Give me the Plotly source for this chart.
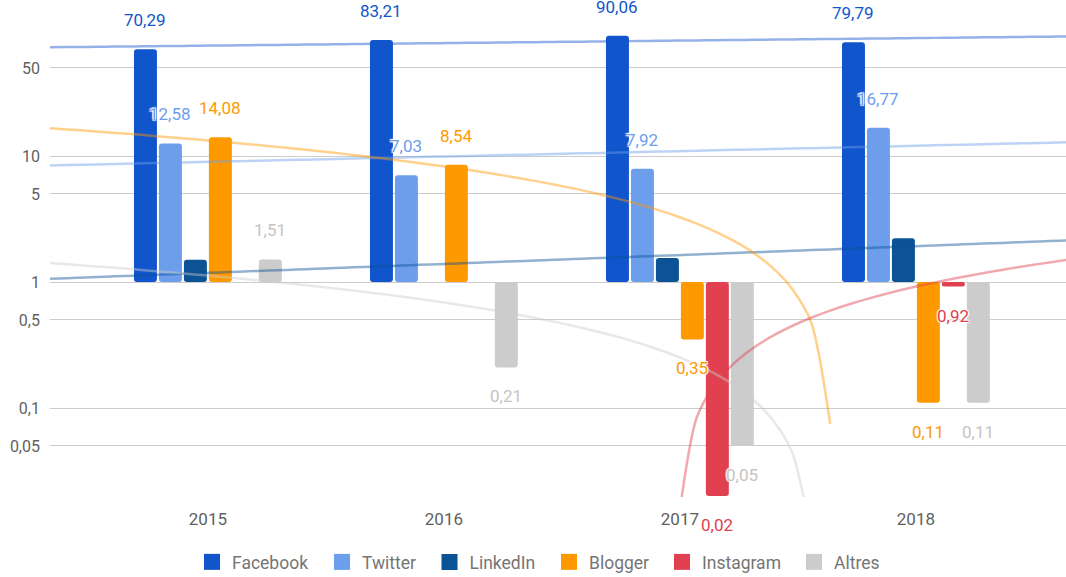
import numpy as np
import plotly.graph_objects as go

years = ["2015", "2016", "2017", "2018"]
series_names = ["Facebook", "Twitter", "LinkedIn", "Blogger", "Instagram", "Altres"]
facebook = [70.29, 83.21, 90.06, 79.79]
twitter = [12.58, 7.03, 7.92, 16.77]
linkedin = [1.5, 1.0, 1.55, 2.23]
blogger = [14.08, 8.54, 0.35, 0.11]
instagram = [None, None, 0.02, 0.92]
altres = [1.51, 0.21, 0.05, 0.11]
colors = ["#1155CC", "#6D9EEB", "#0B5394", "#FF9900", "#E0404F", "#CCCCCC"]
label_colors = ["#1155CC", "#6D9EEB", "#0B5394", "#FF9900", "#E0404F", "#C4C4C4"]
show_labels = [True, True, False, True, True, True]
trend_types = ["exp", "exp", "exp", "linear", "linear", "linear"]
y_tickvals = [0.05, 0.1, 0.5, 1, 5, 10, 50]
y_ticktext = ["0,05", "0,1", "0,5", "1", "5", "10", "50"]
legend_x = [192, 322, 429.5, 549, 662, 794]  # left edge of each legend entry (px)

data = [facebook, twitter, linkedin, blogger, instagram, altres]
xs = np.arange(len(years))
x_range = [-0.669, 3.636]
bargap = 0.365
slot = (1 - bargap) / len(series_names)
plot_left, plot_width = 50, 1016

def rgba(hexc, a):
    h = hexc.lstrip("#")
    return "rgba(%d,%d,%d,%.2f)" % (int(h[0:2], 16), int(h[2:4], 16), int(h[4:6], 16), a)

fig = go.Figure()

# trendlines (fitted from the data, sampled along the category axis)
xt = np.arange(-0.676, 3.8, 0.0808)
for name, vals, col, tt in zip(series_names, data, colors, trend_types):
    px = np.array([x for x, v in zip(xs, vals) if v is not None], dtype=float)
    py = np.array([v for v in vals if v is not None], dtype=float)
    if tt == "exp":
        c = np.polyfit(px, np.log(py), 1)
        yt = np.exp(np.polyval(c, xt))
    else:
        c = np.polyfit(px, py, 1)
        yt = np.polyval(c, xt)
    keep = yt > 0
    fig.add_trace(go.Scatter(x=xt[keep], y=yt[keep], mode="lines", showlegend=False, hoverinfo="skip",
                             line=dict(color=rgba(col, 0.45), width=2.5, shape="spline", smoothing=0.8)))

# bars (base at 1)
for k, (name, vals, col) in enumerate(zip(series_names, data, colors)):
    yv = [None if v is None else v - 1 for v in vals]
    fig.add_trace(go.Bar(x=xs, y=yv, base=1, name=name, showlegend=False,
                         marker=dict(color=col, line=dict(width=0))))

# legend entries (one legend per entry so the spacing matches)
for k, (name, col) in enumerate(zip(series_names, colors)):
    lg = "legend" if k == 0 else "legend%d" % (k + 1)
    fig.add_trace(go.Scatter(x=[None], y=[None], mode="markers", name=name, legend=lg, hoverinfo="skip",
                             marker=dict(symbol="square", size=16, color=col)))
    fig.update_layout({lg: dict(orientation="h", x=(legend_x[k] - plot_left) / plot_width, xanchor="left",
                                yref="container", y=1 - 562 / 577, yanchor="middle",
                                bgcolor="rgba(0,0,0,0)",
                                font=dict(size=17.5, color="#757575"), itemwidth=30)})

# labels
halo = "1px 1px 1px white, -1px -1px 1px white, 1px -1px 1px white, -1px 1px 1px white"
for k, (vals, lc, sl) in enumerate(zip(data, label_colors, show_labels)):
    if not sl:
        continue
    for i, v in enumerate(vals):
        if v is None:
            continue
        txt = ("%.2f" % v).replace(".", ",")
        fig.add_annotation(x=xs[i] + (k - 2.5) * slot, y=float(np.log10(v)), text=txt,
                           showarrow=False, yshift=29 if v >= 1 else -29,
                           font=dict(family="Roboto", size=17, color=lc, shadow=halo))

fig.update_layout(
    width=1066, height=577,
    margin=dict(l=50, r=0, t=0, b=80),
    plot_bgcolor="white", paper_bgcolor="white",
    barmode="group", bargap=bargap, bargroupgap=0.08, barcornerradius=3,
    separators=", ",
    font=dict(family="Roboto", color="#616161"),
    showlegend=True,
    xaxis=dict(range=x_range, tickvals=list(xs), ticktext=years, showgrid=False, zeroline=False,
               showline=False, ticks="", ticklabelstandoff=10, tickfont=dict(size=17, color="#616161")),
    yaxis=dict(type="log", range=[-1.706, 2.238], tickvals=y_tickvals, ticktext=y_ticktext,
               gridcolor="#cccccc", gridwidth=1, zeroline=False, showline=False, ticks="",
               ticklabelstandoff=9, tickfont=dict(size=16, color="#616161")),
)

fig.write_html("out.html", config={"displayModeBar": False},
               post_script="document.body.style.margin='0';document.body.style.overflow='hidden';")
